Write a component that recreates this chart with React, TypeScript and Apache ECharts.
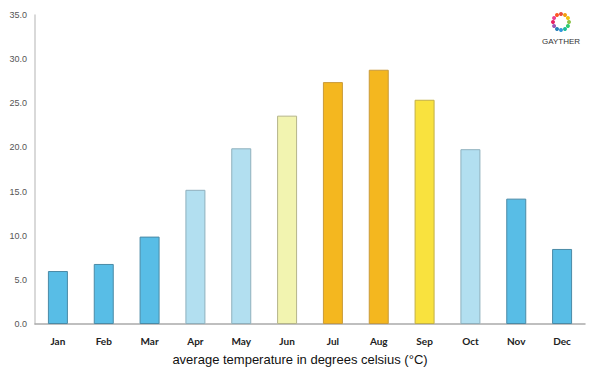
import React, { useEffect, useRef } from "react";
import * as echarts from "echarts";

const months = ["Jan", "Feb", "Mar", "Apr", "May", "Jun", "Jul", "Aug", "Sep", "Oct", "Nov", "Dec"];
const temps = [6.0, 6.8, 9.9, 15.2, 19.9, 23.6, 27.4, 28.8, 25.4, 19.8, 14.2, 8.5];
const barColors = [
  "#58bde6", "#58bde6", "#58bde6", "#b2dff0", "#b2dff0", "#f2f4b0",
  "#f4b71f", "#f4b71f", "#f9e23e", "#b2dff0", "#58bde6", "#58bde6",
];
const borderColors = [
  "#4a8aa6", "#4a8aa6", "#4a8aa6", "#8fb0bd", "#8fb0bd", "#b5b58a",
  "#c99a3a", "#c99a3a", "#c3b046", "#8fb0bd", "#4a8aa6", "#4a8aa6",
];
const logoColors = ["#e74c3c", "#f39c12", "#f1c40f", "#8bc34a", "#2ecc71", "#1abc9c", "#3498db", "#2980b9", "#9b59b6", "#e91e63", "#e84393", "#ff5722"];

export default function App() {
  const ref = useRef<HTMLDivElement>(null);
  useEffect(() => {
    if (!ref.current) return;
    const chart = echarts.init(ref.current, undefined, { renderer: "svg" });
    const cx = 561, cy = 22, r = 8;
    const dots = logoColors.map((c, i) => {
      const a = (i / logoColors.length) * Math.PI * 2 - Math.PI / 2;
      return {
        type: "circle",
        shape: { cx: cx + r * Math.cos(a), cy: cy + r * Math.sin(a), r: 2 },
        style: { fill: c },
      };
    });
    chart.setOption({
      animation: false,
      backgroundColor: "#ffffff",
      grid: { left: 35, right: 15, top: 15, bottom: 51 },
      title: {
        text: "average temperature in degrees celsius (°C)",
        left: "center",
        top: 348,
        textStyle: { fontSize: 13, fontWeight: "normal", color: "#111", fontFamily: "Liberation Sans, Arial, sans-serif" },
      },
      graphic: [
        ...dots,
        {
          type: "text",
          x: cx,
          y: 37,
          style: { text: "GAYTHER", fontSize: 8, fill: "#333", align: "center", fontFamily: "Liberation Sans, Arial, sans-serif" },
        },
      ],
      xAxis: {
        type: "category",
        data: months,
        axisLine: { lineStyle: { color: "#aaaaaa", width: 1.5 } },
        axisTick: { show: false },
        axisLabel: { color: "#222", fontSize: 10, fontWeight: "bold", margin: 12, fontFamily: "Lato, Arial, sans-serif" },
      },
      yAxis: {
        type: "value",
        min: 0,
        max: 35,
        interval: 5,
        axisLine: { show: true, lineStyle: { color: "#cccccc", width: 1.5 } },
        axisTick: { show: false },
        splitLine: { show: false },
        axisLabel: {
          color: "#555",
          fontSize: 9,
          margin: 8,
          fontFamily: "Liberation Sans, Arial, sans-serif",
          formatter: (v: number) => v.toFixed(1),
        },
      },
      series: [
        {
          type: "bar",
          barWidth: 20,
          data: temps.map((v, i) => ({
            value: v,
            itemStyle: { color: barColors[i], borderColor: borderColors[i], borderWidth: 1 },
          })),
        },
      ],
    });
    return () => chart.dispose();
  }, []);
  return <div ref={ref} style={{ width: 600, height: 375, position: "absolute", left: 0, top: 0 }} />;
}
